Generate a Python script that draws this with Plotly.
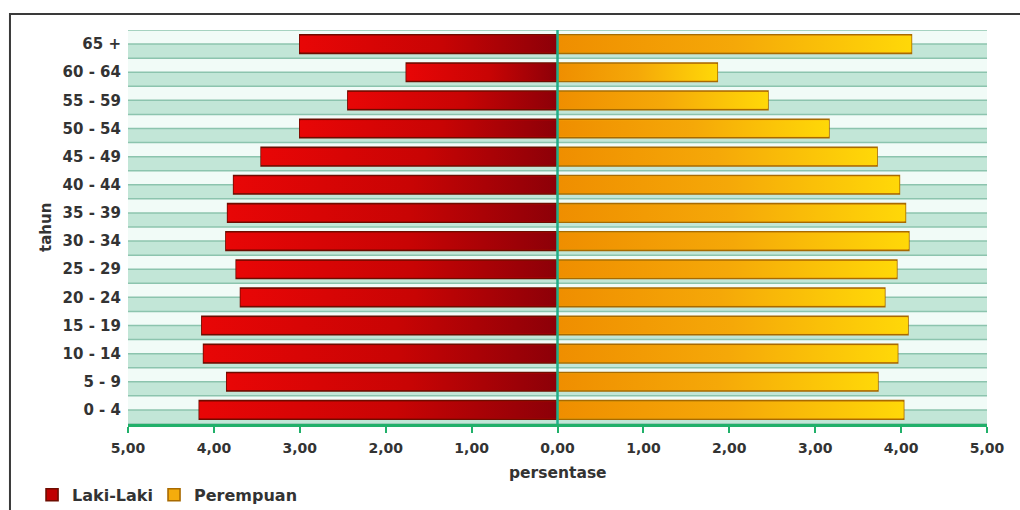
import plotly.graph_objects as go

categories = ["0 - 4", "5 - 9", "10 - 14", "15 - 19", "20 - 24", "25 - 29", "30 - 34",
              "35 - 39", "40 - 44", "45 - 49", "50 - 54", "55 - 59", "60 - 64", "65 +"]
laki_laki = [4.17, 3.85, 4.12, 4.14, 3.69, 3.74, 3.86, 3.84, 3.77, 3.45, 3.00, 2.44, 1.76, 3.00]
perempuan = [4.03, 3.73, 3.96, 4.08, 3.81, 3.95, 4.09, 4.05, 3.98, 3.72, 3.16, 2.45, 1.86, 4.12]
tick_vals = [-5, -4, -3, -2, -1, 0, 1, 2, 3, 4, 5]
tick_text = ["5,00", "4,00", "3,00", "2,00", "1,00", "0,00", "1,00", "2,00", "3,00", "4,00", "5,00"]

FONT = "DejaVu Sans"
TXT = "#333333"
GREEN_AX = "#21b06a"
BAR_W = 0.66
rows = list(range(len(categories)))

fig = go.Figure()
# base bars (outline + legend)
fig.add_trace(go.Bar(
    y=rows, x=[-v for v in laki_laki], orientation="h", name="Laki-Laki",
    marker=dict(color="#c00000", line=dict(color="#6e0c00", width=1.6)),
    width=BAR_W, legend="legend",
))
fig.add_trace(go.Bar(
    y=rows, x=perempuan, orientation="h", name="Perempuan",
    marker=dict(color="#f5ac0c", line=dict(color="#a86a00", width=1.6)),
    width=BAR_W, legend="legend2",
))

# gradient overlays on each bar, built from the same data
h = BAR_W / 2 - 0.035
for i, v in zip(rows, laki_laki):
    fig.add_trace(go.Scatter(
        x=[-v, 0, 0, -v, -v], y=[i - h, i - h, i + h, i + h, i - h],
        mode="lines", fill="toself", line=dict(width=0, color="rgba(0,0,0,0)"),
        fillgradient=dict(type="horizontal",
                          colorscale=[[0, "#e80606"], [0.55, "#c80404"], [1, "#8c0008"]]),
        showlegend=False, hoverinfo="skip",
    ))
for i, v in zip(rows, perempuan):
    fig.add_trace(go.Scatter(
        x=[0, v, v, 0, 0], y=[i - h, i - h, i + h, i + h, i - h],
        mode="lines", fill="toself", line=dict(width=0, color="rgba(0,0,0,0)"),
        fillgradient=dict(type="horizontal",
                          colorscale=[[0, "#ef8e00"], [0.5, "#f5a808"], [1, "#ffd808"]]),
        showlegend=False, hoverinfo="skip",
    ))

shapes = []
# background bands: light upper half, green lower half, lines at half rows
for i in rows:
    shapes.append(dict(type="rect", xref="x", yref="y", x0=-5, x1=5, y0=i - 0.5, y1=i,
                       fillcolor="#c2e6d7", line=dict(width=0), layer="below"))
    shapes.append(dict(type="rect", xref="x", yref="y", x0=-5, x1=5, y0=i, y1=i + 0.5,
                       fillcolor="#f1fbf7", line=dict(width=0), layer="below"))
    for yy in (i - 0.5, i):
        shapes.append(dict(type="line", xref="x", yref="y", x0=-5, x1=5, y0=yy, y1=yy,
                           line=dict(color="#8cc4ae", width=1.5), layer="below"))
shapes.append(dict(type="line", xref="x", yref="y", x0=-5, x1=5,
                   y0=len(categories) - 0.5, y1=len(categories) - 0.5,
                   line=dict(color="#8cc4ae", width=1.5), layer="below"))
# zero line
shapes.append(dict(type="line", xref="x", yref="paper", x0=0, x1=0, y0=0, y1=1,
                   line=dict(color="#1fae8a", width=2.5)))
# outer frame
shapes.append(dict(type="rect", xref="paper", yref="paper", x0=-0.1374, x1=1.2,
                   y0=-0.4, y1=1.0406, line=dict(color="#3a3a3a", width=2)))

annotations = [
    dict(text="<b>persentase</b>", xref="x", yref="paper", x=0, y=-0.1244,
         xanchor="center", yanchor="middle", showarrow=False,
         font=dict(family=FONT, size=15.5, color=TXT)),
    dict(text="<b>tahun</b>", xref="paper", yref="paper", x=-0.0955, y=0.5,
         xanchor="center", yanchor="middle", textangle=-90, showarrow=False,
         font=dict(family=FONT, size=15, color=TXT)),
]

legend_common = dict(orientation="h", y=-0.180, xanchor="left", yanchor="middle",
                     font=dict(family=FONT, size=16, color=TXT, weight="bold"),
                     bgcolor="rgba(0,0,0,0)", itemwidth=30)

fig.update_layout(
    width=1020, height=510,
    margin=dict(l=128, r=33, t=30, b=86, autoexpand=False),
    paper_bgcolor="white", plot_bgcolor="white",
    barmode="overlay",
    shapes=shapes, annotations=annotations,
    font=dict(family=FONT, size=13, color=TXT),
    showlegend=True,
    legend=dict(x=-0.1117, **legend_common),
    legend2=dict(x=0.0303, **legend_common),
)
fig.update_xaxes(
    range=[-5, 5], tickvals=tick_vals, ticktext=tick_text,
    showgrid=False, zeroline=False, automargin=False,
    showline=True, linecolor=GREEN_AX, linewidth=2.5,
    ticks="outside", tickcolor=GREEN_AX, ticklen=6, tickwidth=2,
    ticklabelstandoff=3,
    tickfont=dict(family=FONT, size=14, color=TXT, weight="bold"),
)
fig.update_yaxes(
    range=[-0.5, len(categories) - 0.5], tickvals=rows, ticktext=categories,
    showgrid=False, zeroline=False, showline=False, ticks="", automargin=False,
    tickfont=dict(family=FONT, size=15, color=TXT, weight="bold"),
    ticklabelstandoff=6,
)

fig.write_html("out.html")
